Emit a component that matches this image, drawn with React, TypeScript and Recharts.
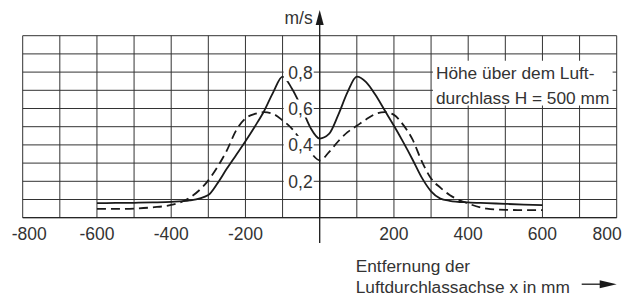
import React from 'react';
import { LineChart, Line, XAxis, YAxis, CartesianGrid, ReferenceLine, ReferenceDot, ReferenceArea } from 'recharts';

const xValues = [-600, -550, -500, -450, -400, -350, -300, -275, -250, -225, -200, -175, -150, -125, -100, -75, -50, -25, 0, 25, 50, 75, 100, 125, 150, 175, 200, 225, 250, 275, 300, 325, 350, 400, 450, 500, 550, 600];
const solidValues = [0.08, 0.081, 0.082, 0.084, 0.087, 0.095, 0.125, 0.19, 0.27, 0.345, 0.42, 0.5, 0.585, 0.69, 0.775, 0.71, 0.61, 0.495, 0.435, 0.46, 0.565, 0.69, 0.775, 0.745, 0.675, 0.59, 0.505, 0.415, 0.32, 0.22, 0.145, 0.105, 0.093, 0.084, 0.08, 0.076, 0.072, 0.069];
const dashedValues = [0.048, 0.048, 0.05, 0.057, 0.07, 0.11, 0.205, 0.28, 0.37, 0.48, 0.545, 0.57, 0.58, 0.57, 0.535, 0.49, 0.425, 0.36, 0.315, 0.36, 0.42, 0.47, 0.505, 0.54, 0.57, 0.58, 0.565, 0.51, 0.43, 0.31, 0.215, 0.165, 0.125, 0.078, 0.05, 0.043, 0.042, 0.042];

const gridX = [-800, -700, -600, -500, -400, -300, -200, -100, 0, 100, 200, 300, 400, 500, 600, 700, 800];
const gridY = [0.1, 0.2, 0.3, 0.4, 0.5, 0.6, 0.7, 0.8, 0.9];
const xLabels = [-800, -600, -400, -200, 200, 400, 600, 800];
const yLabelValues = [0.2, 0.4, 0.6, 0.8];
const yLabelTexts = ['0,2', '0,4', '0,6', '0,8'];
const yUnit = 'm/s';
const boxLines = ['Höhe über dem Luft-', 'durchlass H = 500 mm'];
const xTitleLines = ['Entfernung der', 'Luftdurchlassachse x in mm'];

const data = xValues.map((x, i) => ({ x, solid: solidValues[i], dashed: dashedValues[i] }));

const FONT = '"Liberation Sans", Arial, sans-serif';
const FS = 17.5;
const TEXT = '#333';
const INK = '#1a1a1a';

const XTick = (props: any) => {
  const { x, y, payload } = props;
  const v = payload.value;
  if (!xLabels.includes(v)) return <g />;
  let anchor: any = 'middle';
  let dx = 0;
  if (v === xLabels[0]) { anchor = 'start'; dx = -11; }
  if (v === xLabels[xLabels.length - 1]) { anchor = 'end'; dx = 5; }
  return (
    <text x={x + dx} y={y + 22.5} textAnchor={anchor} fontFamily={FONT} fontSize={FS} fill={TEXT}>
      {String(v)}
    </text>
  );
};

const YAxisShape = (props: any) => {
  const { x1, y1, x2, y2 } = props;
  const top = Math.min(y1, y2);
  const bottom = Math.max(y1, y2);
  return (
    <g>
      <line x1={x1} y1={bottom} x2={x2} y2={top} stroke={INK} strokeWidth={1.3} />
      <polygon points={`${x1 - 4},${top} ${x1 + 4},${top} ${x1},${top - 15}`} fill={INK} />
      <text x={x1 - 7} y={top - 1} textAnchor="end" fontFamily={FONT} fontSize={FS} fill={TEXT}>{yUnit}</text>
    </g>
  );
};

const makeYLabel = (label: string) => (props: any) => {
  const { cx, cy } = props;
  return (
    <g>
      <rect x={cx - 36} y={cy - 9} width={30} height={18} fill="#fff" />
      <text x={cx - 7} y={cy + 6.5} textAnchor="end" fontFamily={FONT} fontSize={FS} fill={TEXT}>{label}</text>
    </g>
  );
};

const BoxLabel = (props: any) => {
  const vb = props.viewBox || {};
  return (
    <g>
      {boxLines.map((t, i) => (
        <text key={i} x={vb.x + 3} y={vb.y + 18.5 + i * 25} fontFamily={FONT} fontSize={17.3} fill={TEXT}>{t}</text>
      ))}
    </g>
  );
};

const XTitle = (props: any) => {
  const vb = props.viewBox || {};
  const tx = vb.x + 333;
  const ay = vb.y + 66.5;
  const ax2 = vb.x + vb.width;
  return (
    <g>
      <text x={tx} y={vb.y + 54} fontFamily={FONT} fontSize={17.3} fill={TEXT}>{xTitleLines[0]}</text>
      <text x={tx} y={vb.y + 75.6} fontFamily={FONT} fontSize={17.3} fill={TEXT}>{xTitleLines[1]}</text>
      <line x1={ax2 - 35} y1={ay} x2={ax2 - 14} y2={ay} stroke={INK} strokeWidth={1.3} />
      <polygon points={`${ax2 - 17},${ay - 4} ${ax2 - 17},${ay + 4} ${ax2},${ay}`} fill={INK} />
    </g>
  );
};

export default function App() {
  return (
    <LineChart
      width={622}
      height={292}
      data={data}
      margin={{ top: 27.7, right: 13.3, left: 14.7, bottom: 52.3 }}
    >
      <CartesianGrid stroke="#333" strokeWidth={1} />
      <XAxis
        dataKey="x"
        type="number"
        domain={[-800, 800]}
        ticks={gridX}
        interval={0}
        tickLine={false}
        tickSize={0}
        tickMargin={0}
        height={30}
        axisLine={{ stroke: INK, strokeWidth: 1 }}
        tick={<XTick />}
        label={<XTitle />}
      />
      <YAxis type="number" domain={[0, 1]} ticks={gridY} interval={0} hide />
      <ReferenceArea
        x1={305}
        x2={789}
        y1={0.616}
        y2={0.862}
        fill="#fff"
        fillOpacity={1}
        stroke="none"
        ifOverflow="visible"
        label={<BoxLabel />}
      />
      {yLabelValues.map((v, i) => (
        <ReferenceDot key={v} x={0} y={v} r={0} ifOverflow="visible" shape={makeYLabel(yLabelTexts[i])} />
      ))}
      <ReferenceLine
        segment={[{ x: 0, y: -0.139 }, { x: 0, y: 1.059 }]}
        ifOverflow="visible"
        stroke={INK}
        shape={<YAxisShape />}
      />
      <Line
        type="monotone"
        dataKey="dashed"
        stroke={INK}
        strokeWidth={1.8}
        strokeDasharray="9 5"
        dot={false}
        isAnimationActive={false}
      />
      <Line
        type="monotone"
        dataKey="solid"
        stroke={INK}
        strokeWidth={1.8}
        dot={false}
        isAnimationActive={false}
      />
    </LineChart>
  );
}
